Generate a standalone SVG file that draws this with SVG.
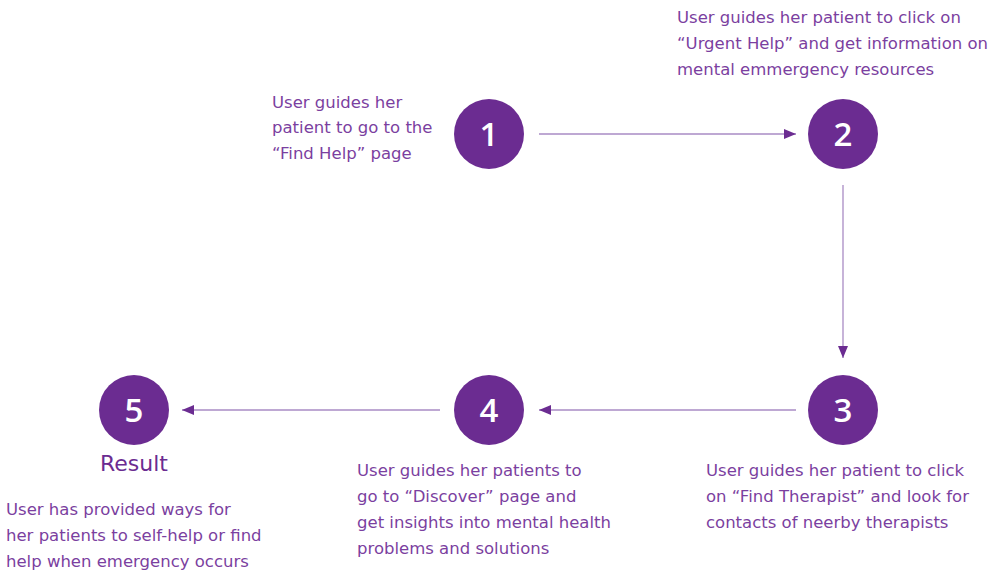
<svg xmlns="http://www.w3.org/2000/svg" width="1000" height="573" viewBox="0 0 1000 573">
<style>
.c{fill:#6B2C91;}
.n{fill:#fff;font-family:"Open Sans",sans-serif;font-size:33px;font-weight:600;text-anchor:middle;}
.t{fill:#7B3FA0;font-family:"DejaVu Sans",sans-serif;font-size:16.5px;}
.r{fill:#6B2C91;font-family:"DejaVu Sans",sans-serif;font-size:22px;text-anchor:middle;}
.e{stroke:#A98BC4;stroke-width:1.3;fill:none;marker-end:url(#ah);}
</style>
<defs>
<marker id="ah" markerWidth="12" markerHeight="10" refX="12" refY="5" orient="auto" markerUnits="userSpaceOnUse">
<path d="M0,0 L12,5 L0,10 Z" fill="#6B2C91"/>
</marker>
</defs>
<rect width="1000" height="573" fill="#fff"/>
<g id="connectors">
<line class="e" x1="539" y1="134" x2="796" y2="134"/>
<line class="e" x1="843" y1="185" x2="843" y2="358"/>
<line class="e" x1="796" y1="410" x2="539" y2="410"/>
<line class="e" x1="440" y1="410" x2="182" y2="410"/>
</g>
<g id="node1">
<circle class="c" cx="489" cy="134" r="35"/>
<text class="n" x="489" y="146">1</text>
<text class="t"><tspan x="272" y="108">User guides her</tspan><tspan x="272" y="133">patient to go to the</tspan><tspan x="272" y="159">“Find Help” page</tspan></text>
</g>
<g id="node2">
<circle class="c" cx="843" cy="134" r="35"/>
<text class="n" x="843" y="146">2</text>
<text class="t"><tspan x="677" y="23">User guides her patient to click on</tspan><tspan x="677" y="49">“Urgent Help” and get information on</tspan><tspan x="677" y="75">mental emmergency resources</tspan></text>
</g>
<g id="node3">
<circle class="c" cx="843" cy="410" r="35"/>
<text class="n" x="843" y="422">3</text>
<text class="t"><tspan x="706" y="476">User guides her patient to click</tspan><tspan x="706" y="502">on “Find Therapist” and look for</tspan><tspan x="706" y="528">contacts of neerby therapists</tspan></text>
</g>
<g id="node4">
<circle class="c" cx="489" cy="410" r="35"/>
<text class="n" x="489" y="422">4</text>
<text class="t"><tspan x="357" y="476">User guides her patients to</tspan><tspan x="357" y="502">go to “Discover” page and</tspan><tspan x="357" y="528">get insights into mental health</tspan><tspan x="357" y="554">problems and solutions</tspan></text>
</g>
<g id="node5">
<circle class="c" cx="134" cy="410" r="35"/>
<text class="n" x="134" y="422">5</text>
<text class="r" x="134" y="471">Result</text>
<text class="t"><tspan x="6" y="515">User has provided ways for</tspan><tspan x="6" y="541">her patients to self-help or find</tspan><tspan x="6" y="567">help when emergency occurs</tspan></text>
</g>
</svg>
